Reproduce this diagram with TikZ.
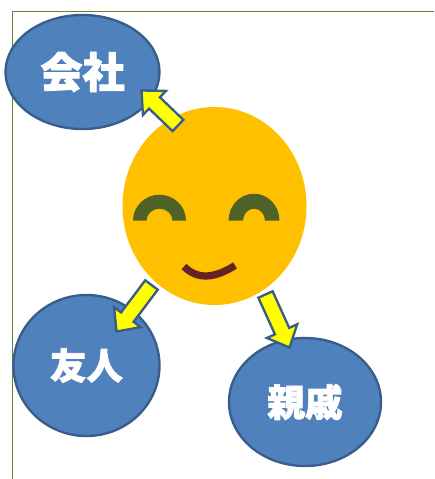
\documentclass[tikz,border=0pt]{standalone}
\usepackage{fontspec}
\newfontfamily\jpfont[BoldFeatures={FakeBold=2}]{Noto Sans CJK JP}
\usetikzlibrary{calc,shapes.geometric}
\definecolor{bubbleblue}{HTML}{4F81BD}
\definecolor{edgeblue}{HTML}{385D8A}
\definecolor{facegold}{HTML}{FFC000}
\definecolor{eyegreen}{HTML}{4F6228}
\definecolor{mouthred}{HTML}{632423}
\definecolor{frameolive}{HTML}{66803A}
\definecolor{arrowyellow}{RGB}{255,255,0}
\tikzset{
  bubble/.style={draw=edgeblue, line width=2pt, fill=bubbleblue, ellipse, inner sep=0pt, text=white},
  facebox/.style={ellipse, fill=facegold, inner sep=0pt, minimum width=5.52cm, minimum height=5.94cm},
  eye/.style={fill=eyegreen},
  blockarrow/.style={draw=edgeblue, line width=2pt, fill=arrowyellow, line join=miter, to path={
    ($(\tikztostart)!0.235cm!90:(\tikztotarget)$)
    -- ($(\tikztotarget)!0.54cm!(\tikztostart)!0.235cm!90:(\tikztotarget)$)
    -- ($(\tikztotarget)!0.54cm!(\tikztostart)!0.5cm!90:(\tikztotarget)$)
    -- (\tikztotarget)
    -- ($(\tikztotarget)!0.54cm!(\tikztostart)!0.5cm!-90:(\tikztotarget)$)
    -- ($(\tikztotarget)!0.54cm!(\tikztostart)!0.235cm!-90:(\tikztotarget)$)
    -- ($(\tikztostart)!0.235cm!-90:(\tikztotarget)$) -- cycle}},
}
\begin{document}
\begin{tikzpicture}[x=0.03cm, y=-0.03cm]
\useasboundingbox (0,0) rectangle (434,479);
\draw[frameolive, line width=0.8pt] (12.5,479) -- (12.5,11) -- (434,11);
\node[bubble, minimum width=4.62cm, minimum height=3.42cm, font=\jpfont\bfseries\fontsize{36}{36}\selectfont] (company) at (82.5,72) {\raisebox{-2pt}{会社}};
\node[bubble, minimum width=4.38cm, minimum height=4.23cm, font=\jpfont\bfseries\fontsize{31}{31}\selectfont] (friend) at (86.5,365.5) {\raisebox{-2pt}{友人}};
\node[bubble, minimum width=4.56cm, minimum height=3.84cm, font=\jpfont\bfseries\fontsize{32}{32}\selectfont] (family) at (305,402) {親戚};
\node[facebox] (face) at (214.5,206) {};
\coordinate (companytail) at (178,125.5);
\coordinate (companytip) at (141.5,90.5);
\coordinate (friendtail) at (151.5,285);
\coordinate (friendtip) at (116.5,331.5);
\coordinate (familytail) at (265.5,294.5);
\coordinate (familytip) at (289.5,347.5);
\fill[eye] (133,220.7) arc[start angle=180, end angle=0, x radius=0.795cm, y radius=0.78cm]
  -- (172.5,220.7) arc[start angle=0, end angle=180, x radius=0.39cm, y radius=0.36cm] -- cycle;
\fill[eye] (228.5,220.7) arc[start angle=180, end angle=0, x radius=0.765cm, y radius=0.81cm]
  -- (265,220.7) arc[start angle=0, end angle=180, x radius=0.33cm, y radius=0.36cm] -- cycle;
\draw[mouthred, line width=6.2pt] (184,266.5) .. controls (198,280.5) and (215,278) .. (235,265.5);
\draw[blockarrow] (companytail) to (companytip);
\draw[blockarrow] (friendtail) to (friendtip);
\draw[blockarrow] (familytail) to (familytip);
\end{tikzpicture}
\end{document}
